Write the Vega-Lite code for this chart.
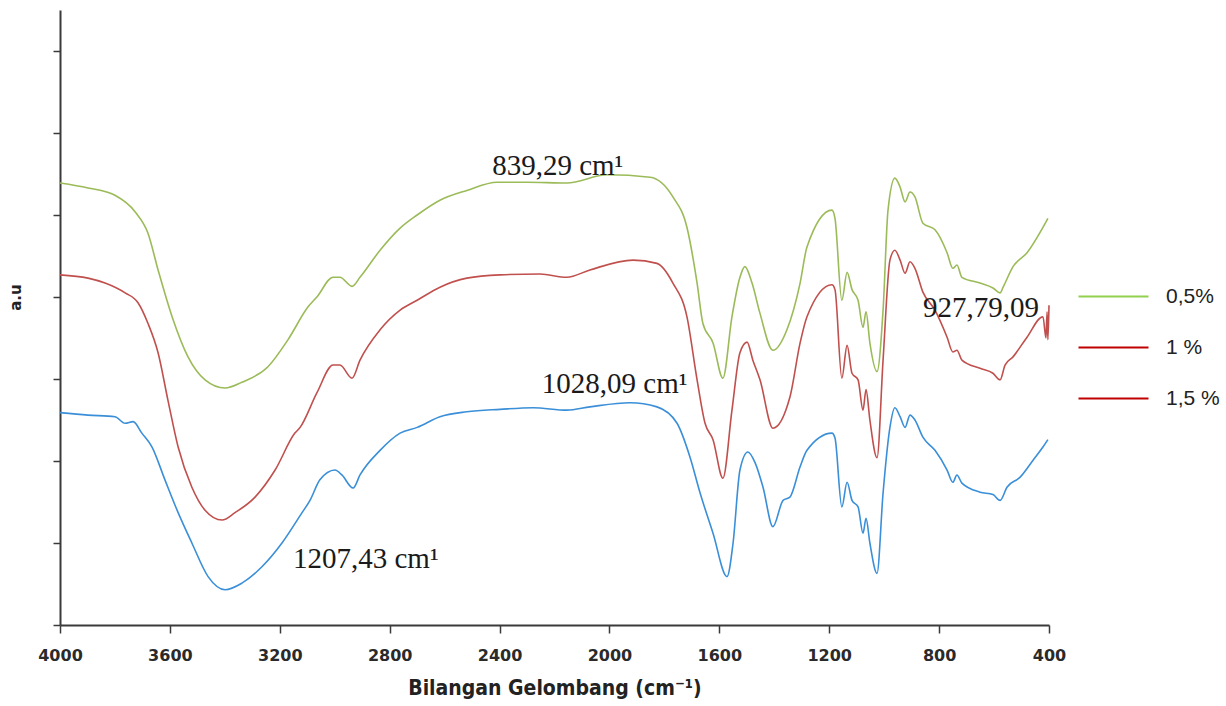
{
  "$schema": "https://vega.github.io/schema/vega-lite/v6.json",
  "autosize": "none",
  "width": 989,
  "height": 615,
  "padding": {"left": 60, "top": 10, "right": 177, "bottom": 81},
  "background": "white",
  "config": {"view": {"stroke": null}},
  "resolve": {"scale": {"color": "independent"}, "legend": {"color": "independent"}},
  "layer": [
    {
      "data": {"values": [
        {"s":"0,5%","x":4000,"y":5.39},{"s":"0,5%","x":3898,"y":5.33},{"s":"0,5%","x":3800,"y":5.24},{"s":"0,5%","x":3727,"y":5.04},{"s":"0,5%","x":3680,"y":4.78},{"s":"0,5%","x":3643,"y":4.33},{"s":"0,5%","x":3592,"y":3.76},{"s":"0,5%","x":3534,"y":3.27},{"s":"0,5%","x":3472,"y":2.99},{"s":"0,5%","x":3399,"y":2.89},{"s":"0,5%","x":3338,"y":2.96},{"s":"0,5%","x":3243,"y":3.15},{"s":"0,5%","x":3170,"y":3.48},{"s":"0,5%","x":3097,"y":3.88},{"s":"0,5%","x":3065,"y":4.0},{"s":"0,5%","x":3006,"y":4.24},{"s":"0,5%","x":2981,"y":4.24},{"s":"0,5%","x":2937,"y":4.13},{"s":"0,5%","x":2908,"y":4.24},{"s":"0,5%","x":2835,"y":4.57},{"s":"0,5%","x":2762,"y":4.84},{"s":"0,5%","x":2700,"y":5.0},{"s":"0,5%","x":2617,"y":5.18},{"s":"0,5%","x":2519,"y":5.3},{"s":"0,5%","x":2409,"y":5.4},{"s":"0,5%","x":2300,"y":5.4},{"s":"0,5%","x":2155,"y":5.39},{"s":"0,5%","x":2009,"y":5.49},{"s":"0,5%","x":1852,"y":5.46},{"s":"0,5%","x":1769,"y":5.22},{"s":"0,5%","x":1718,"y":4.85},{"s":"0,5%","x":1681,"y":4.17},{"s":"0,5%","x":1660,"y":3.68},{"s":"0,5%","x":1623,"y":3.44},{"s":"0,5%","x":1587,"y":3.01},{"s":"0,5%","x":1554,"y":3.76},{"s":"0,5%","x":1525,"y":4.24},{"s":"0,5%","x":1507,"y":4.37},{"s":"0,5%","x":1481,"y":4.17},{"s":"0,5%","x":1452,"y":3.8},{"s":"0,5%","x":1405,"y":3.35},{"s":"0,5%","x":1354,"y":3.6},{"s":"0,5%","x":1306,"y":4.17},{"s":"0,5%","x":1281,"y":4.61},{"s":"0,5%","x":1190,"y":5.06},{"s":"0,5%","x":1179,"y":4.96},{"s":"0,5%","x":1154,"y":3.96},{"s":"0,5%","x":1135,"y":4.3},{"s":"0,5%","x":1117,"y":4.09},{"s":"0,5%","x":1095,"y":3.96},{"s":"0,5%","x":1077,"y":3.63},{"s":"0,5%","x":1066,"y":3.82},{"s":"0,5%","x":1052,"y":3.44},{"s":"0,5%","x":1026,"y":3.09},{"s":"0,5%","x":1004,"y":3.84},{"s":"0,5%","x":986,"y":5.06},{"s":"0,5%","x":961,"y":5.45},{"s":"0,5%","x":942,"y":5.34},{"s":"0,5%","x":924,"y":5.16},{"s":"0,5%","x":906,"y":5.28},{"s":"0,5%","x":888,"y":5.22},{"s":"0,5%","x":859,"y":4.9},{"s":"0,5%","x":815,"y":4.82},{"s":"0,5%","x":771,"y":4.54},{"s":"0,5%","x":750,"y":4.35},{"s":"0,5%","x":735,"y":4.39},{"s":"0,5%","x":717,"y":4.24},{"s":"0,5%","x":651,"y":4.17},{"s":"0,5%","x":604,"y":4.11},{"s":"0,5%","x":578,"y":4.05},{"s":"0,5%","x":567,"y":4.12},{"s":"0,5%","x":531,"y":4.37},{"s":"0,5%","x":480,"y":4.54},{"s":"0,5%","x":422,"y":4.85},{"s":"0,5%","x":404,"y":4.96},

        {"s":"1 %","x":4000,"y":4.27},{"s":"1 %","x":3898,"y":4.23},{"s":"1 %","x":3836,"y":4.17},{"s":"1 %","x":3763,"y":4.05},{"s":"1 %","x":3716,"y":3.93},{"s":"1 %","x":3680,"y":3.68},{"s":"1 %","x":3643,"y":3.32},{"s":"1 %","x":3607,"y":2.74},{"s":"1 %","x":3570,"y":2.17},{"s":"1 %","x":3520,"y":1.68},{"s":"1 %","x":3472,"y":1.4},{"s":"1 %","x":3410,"y":1.28},{"s":"1 %","x":3363,"y":1.37},{"s":"1 %","x":3290,"y":1.56},{"s":"1 %","x":3217,"y":1.89},{"s":"1 %","x":3145,"y":2.34},{"s":"1 %","x":3126,"y":2.41},{"s":"1 %","x":3065,"y":2.83},{"s":"1 %","x":3006,"y":3.17},{"s":"1 %","x":2981,"y":3.17},{"s":"1 %","x":2937,"y":3.01},{"s":"1 %","x":2908,"y":3.23},{"s":"1 %","x":2835,"y":3.6},{"s":"1 %","x":2762,"y":3.84},{"s":"1 %","x":2700,"y":3.96},{"s":"1 %","x":2617,"y":4.12},{"s":"1 %","x":2519,"y":4.23},{"s":"1 %","x":2398,"y":4.27},{"s":"1 %","x":2253,"y":4.28},{"s":"1 %","x":2155,"y":4.24},{"s":"1 %","x":2071,"y":4.33},{"s":"1 %","x":1914,"y":4.45},{"s":"1 %","x":1827,"y":4.41},{"s":"1 %","x":1769,"y":4.17},{"s":"1 %","x":1718,"y":3.76},{"s":"1 %","x":1681,"y":2.99},{"s":"1 %","x":1652,"y":2.46},{"s":"1 %","x":1623,"y":2.26},{"s":"1 %","x":1587,"y":1.79},{"s":"1 %","x":1554,"y":2.62},{"s":"1 %","x":1525,"y":3.32},{"s":"1 %","x":1499,"y":3.45},{"s":"1 %","x":1478,"y":3.23},{"s":"1 %","x":1452,"y":2.99},{"s":"1 %","x":1405,"y":2.4},{"s":"1 %","x":1343,"y":2.78},{"s":"1 %","x":1306,"y":3.44},{"s":"1 %","x":1281,"y":3.76},{"s":"1 %","x":1190,"y":4.15},{"s":"1 %","x":1179,"y":4.09},{"s":"1 %","x":1154,"y":3.01},{"s":"1 %","x":1135,"y":3.41},{"s":"1 %","x":1117,"y":3.07},{"s":"1 %","x":1095,"y":2.99},{"s":"1 %","x":1077,"y":2.62},{"s":"1 %","x":1066,"y":2.87},{"s":"1 %","x":1052,"y":2.5},{"s":"1 %","x":1026,"y":2.04},{"s":"1 %","x":1004,"y":3.23},{"s":"1 %","x":979,"y":4.45},{"s":"1 %","x":961,"y":4.57},{"s":"1 %","x":942,"y":4.45},{"s":"1 %","x":924,"y":4.29},{"s":"1 %","x":906,"y":4.43},{"s":"1 %","x":888,"y":4.35},{"s":"1 %","x":859,"y":4.06},{"s":"1 %","x":815,"y":3.84},{"s":"1 %","x":771,"y":3.51},{"s":"1 %","x":750,"y":3.33},{"s":"1 %","x":735,"y":3.35},{"s":"1 %","x":717,"y":3.23},{"s":"1 %","x":651,"y":3.13},{"s":"1 %","x":604,"y":3.07},{"s":"1 %","x":578,"y":2.99},{"s":"1 %","x":560,"y":3.17},{"s":"1 %","x":531,"y":3.27},{"s":"1 %","x":480,"y":3.51},{"s":"1 %","x":422,"y":3.76},{"s":"1 %","x":411,"y":3.5},{"s":"1 %","x":407,"y":3.82},{"s":"1 %","x":404,"y":3.48},{"s":"1 %","x":400,"y":3.9},

        {"s":"1,5 %","x":4000,"y":2.59},{"s":"1,5 %","x":3898,"y":2.56},{"s":"1,5 %","x":3800,"y":2.54},{"s":"1,5 %","x":3763,"y":2.46},{"s":"1,5 %","x":3734,"y":2.48},{"s":"1,5 %","x":3702,"y":2.34},{"s":"1,5 %","x":3665,"y":2.17},{"s":"1,5 %","x":3618,"y":1.77},{"s":"1,5 %","x":3570,"y":1.37},{"s":"1,5 %","x":3520,"y":1.0},{"s":"1,5 %","x":3461,"y":0.59},{"s":"1,5 %","x":3399,"y":0.43},{"s":"1,5 %","x":3338,"y":0.51},{"s":"1,5 %","x":3265,"y":0.71},{"s":"1,5 %","x":3192,"y":1.0},{"s":"1,5 %","x":3119,"y":1.37},{"s":"1,5 %","x":3090,"y":1.52},{"s":"1,5 %","x":3054,"y":1.77},{"s":"1,5 %","x":2999,"y":1.89},{"s":"1,5 %","x":2974,"y":1.83},{"s":"1,5 %","x":2933,"y":1.67},{"s":"1,5 %","x":2908,"y":1.83},{"s":"1,5 %","x":2835,"y":2.13},{"s":"1,5 %","x":2762,"y":2.34},{"s":"1,5 %","x":2700,"y":2.41},{"s":"1,5 %","x":2617,"y":2.54},{"s":"1,5 %","x":2519,"y":2.6},{"s":"1,5 %","x":2398,"y":2.63},{"s":"1,5 %","x":2278,"y":2.65},{"s":"1,5 %","x":2155,"y":2.62},{"s":"1,5 %","x":2071,"y":2.66},{"s":"1,5 %","x":1925,"y":2.71},{"s":"1,5 %","x":1827,"y":2.66},{"s":"1,5 %","x":1754,"y":2.46},{"s":"1,5 %","x":1707,"y":2.05},{"s":"1,5 %","x":1670,"y":1.61},{"s":"1,5 %","x":1623,"y":1.12},{"s":"1,5 %","x":1572,"y":0.59},{"s":"1,5 %","x":1550,"y":1.0},{"s":"1,5 %","x":1525,"y":1.89},{"s":"1,5 %","x":1496,"y":2.11},{"s":"1,5 %","x":1470,"y":1.98},{"s":"1,5 %","x":1441,"y":1.68},{"s":"1,5 %","x":1405,"y":1.2},{"s":"1,5 %","x":1368,"y":1.52},{"s":"1,5 %","x":1343,"y":1.56},{"s":"1,5 %","x":1306,"y":1.93},{"s":"1,5 %","x":1281,"y":2.13},{"s":"1,5 %","x":1190,"y":2.34},{"s":"1,5 %","x":1179,"y":2.28},{"s":"1,5 %","x":1154,"y":1.44},{"s":"1,5 %","x":1135,"y":1.74},{"s":"1,5 %","x":1117,"y":1.52},{"s":"1,5 %","x":1095,"y":1.44},{"s":"1,5 %","x":1077,"y":1.12},{"s":"1,5 %","x":1066,"y":1.3},{"s":"1,5 %","x":1052,"y":1.0},{"s":"1,5 %","x":1026,"y":0.63},{"s":"1,5 %","x":1004,"y":1.61},{"s":"1,5 %","x":979,"y":2.41},{"s":"1,5 %","x":961,"y":2.65},{"s":"1,5 %","x":942,"y":2.54},{"s":"1,5 %","x":924,"y":2.41},{"s":"1,5 %","x":906,"y":2.56},{"s":"1,5 %","x":888,"y":2.5},{"s":"1,5 %","x":859,"y":2.29},{"s":"1,5 %","x":815,"y":2.13},{"s":"1,5 %","x":771,"y":1.89},{"s":"1,5 %","x":750,"y":1.74},{"s":"1,5 %","x":735,"y":1.83},{"s":"1,5 %","x":717,"y":1.73},{"s":"1,5 %","x":651,"y":1.62},{"s":"1,5 %","x":604,"y":1.59},{"s":"1,5 %","x":578,"y":1.52},{"s":"1,5 %","x":553,"y":1.68},{"s":"1,5 %","x":506,"y":1.8},{"s":"1,5 %","x":458,"y":2.01},{"s":"1,5 %","x":422,"y":2.17},{"s":"1,5 %","x":404,"y":2.26}
      ]},
      "mark": {"type": "line", "strokeWidth": 1.6, "interpolate": "monotone"},
      "encoding": {
        "x": {
          "field": "x", "type": "quantitative",
          "scale": {"domain": [400, 4000], "reverse": true, "nice": false, "zero": false},
          "axis": {
            "values": [4000, 3600, 3200, 2800, 2400, 2000, 1600, 1200, 800, 400],
            "format": "d",
            "grid": false,
            "domainColor": "#3a3a3a", "domainWidth": 2,
            "tickColor": "#3a3a3a", "tickWidth": 1.5, "tickSize": 8,
            "labelFont": "DejaVu Sans", "labelFontSize": 16, "labelFontWeight": "bold", "labelColor": "#2a2a2a",
            "labelPadding": 14, "labelFlush": false,
            "title": "Bilangan Gelombang (cm⁻¹)",
            "titleFont": "DejaVu Sans Condensed", "titleFontSize": 21, "titleFontWeight": "bold", "titleColor": "#222222",
            "titlePadding": 14
          }
        },
        "y": {
          "field": "y", "type": "quantitative",
          "scale": {"domain": [0, 7.5], "nice": false, "zero": false},
          "axis": {
            "values": [0, 1, 2, 3, 4, 5, 6, 7],
            "labels": false, "grid": false,
            "domainColor": "#3a3a3a", "domainWidth": 2,
            "tickColor": "#3a3a3a", "tickWidth": 1.5, "tickSize": 7,
            "title": "a.u",
            "titleFont": "DejaVu Sans", "titleFontSize": 15, "titleFontWeight": "bold", "titleColor": "#222222",
            "titleX": -37, "titleY": 287
          }
        },
        "color": {
          "field": "s", "type": "nominal",
          "scale": {"domain": ["0,5%", "1 %", "1,5 %"], "range": ["#9bbb59", "#c0504d", "#3a8fd8"]},
          "legend": null
        }
      }
    },
    {
      "data": {"values": [
        {"k": "0,5%", "x": 300, "y": 1}, {"k": "0,5%", "x": 200, "y": 1},
        {"k": "1 %", "x": 300, "y": 1}, {"k": "1 %", "x": 200, "y": 1},
        {"k": "1,5 %", "x": 300, "y": 1}, {"k": "1,5 %", "x": 200, "y": 1}
      ]},
      "mark": {"type": "line", "clip": true, "strokeWidth": 2},
      "encoding": {
        "x": {"field": "x", "type": "quantitative", "scale": {"domain": [400, 4000], "reverse": true, "nice": false, "zero": false}},
        "y": {"field": "y", "type": "quantitative"},
        "color": {
          "field": "k", "type": "nominal",
          "scale": {"domain": ["0,5%", "1 %", "1,5 %"], "range": ["#92d050", "#c00000", "#c00000"]},
          "legend": {
            "title": null,
            "orient": "none",
            "legendX": 1043,
            "legendY": 276,
            "symbolType": "M-5,0H5",
            "symbolSize": 196,
            "symbolStrokeWidth": 2,
            "labelOffset": 42,
            "labelFont": "Liberation Sans",
            "labelFontSize": 21,
            "labelColor": "#222222",
            "rowPadding": 29
          }
        }
      }
    },
    {
      "data": {"values": [
        {"x": 2427, "y": 5.49, "t": "839,29 cm¹"},
        {"x": 2246, "y": 2.83, "t": "1028,09 cm¹"},
        {"x": 3152, "y": 0.70, "t": "1207,43 cm¹"},
        {"x": 859, "y": 3.76, "t": "927,79,09"}
      ]},
      "mark": {"type": "text", "align": "left", "baseline": "alphabetic", "font": "Liberation Serif", "fontSize": 29, "color": "#1a1a1a"},
      "encoding": {
        "x": {"field": "x", "type": "quantitative"},
        "y": {"field": "y", "type": "quantitative"},
        "text": {"field": "t"}
      }
    }
  ]
}
